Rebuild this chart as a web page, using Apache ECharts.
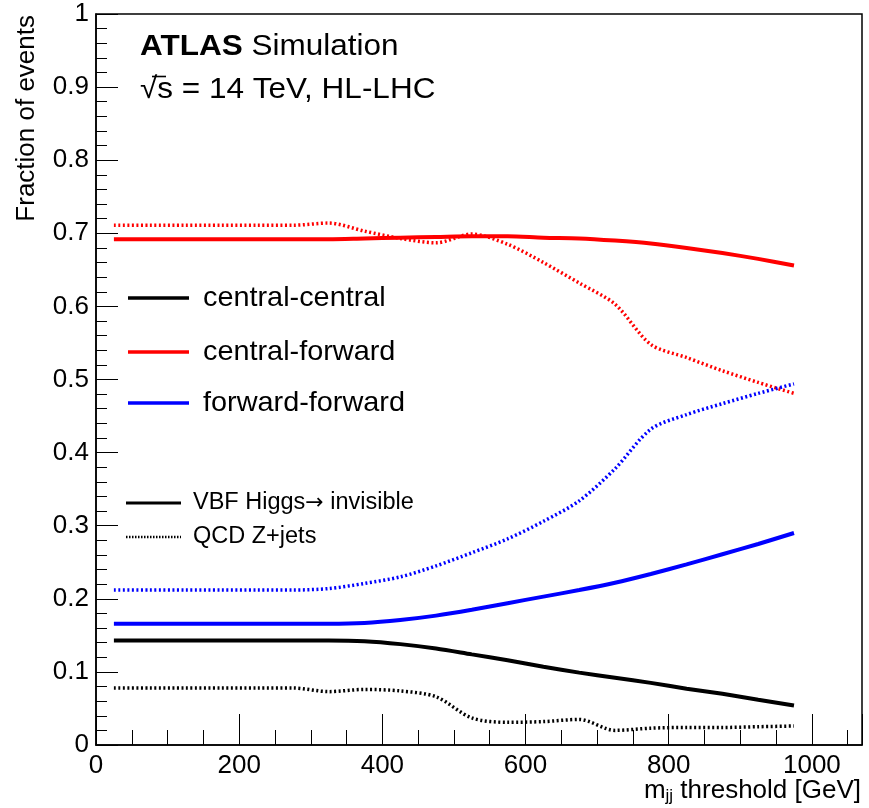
<!DOCTYPE html>
<html><head><meta charset="utf-8">
<script src="https://cdn.jsdelivr.net/npm/echarts@6/dist/echarts.min.js"></script>
<style>html,body{margin:0;padding:0;background:#fff}#c{width:869px;height:808px}</style>
</head><body><div id="c"></div>
<script>
// m_jj threshold values [GeV]
const mjj = [25,75,125,175,225,275,325,375,425,475,525,575,625,675,725,775,825,875,925,975];
// VBF Higgs -> invisible (solid)
const ccVBF = [0.143,0.143,0.143,0.143,0.143,0.143,0.143,0.142,0.138,0.132,0.124,0.116,0.107,0.099,0.092,0.085,0.077,0.070,0.062,0.054];
const cfVBF = [0.692,0.692,0.692,0.692,0.692,0.692,0.692,0.693,0.694,0.695,0.696,0.696,0.694,0.693,0.690,0.686,0.680,0.673,0.665,0.656];
const ffVBF = [0.166,0.166,0.166,0.166,0.166,0.166,0.166,0.167,0.171,0.177,0.185,0.194,0.203,0.212,0.222,0.234,0.247,0.261,0.275,0.290];
// QCD Z+jets (dotted)
const ccQCD = [0.078,0.078,0.078,0.078,0.078,0.078,0.073,0.076,0.074,0.066,0.037,0.031,0.032,0.035,0.020,0.023,0.024,0.024,0.025,0.026];
const cfQCD = [0.711,0.711,0.711,0.711,0.711,0.711,0.714,0.703,0.693,0.687,0.699,0.685,0.660,0.632,0.603,0.548,0.530,0.512,0.496,0.481];
const ffQCD = [0.212,0.212,0.212,0.212,0.212,0.212,0.214,0.221,0.230,0.245,0.263,0.282,0.306,0.334,0.378,0.432,0.452,0.467,0.481,0.494];
// axis ticks
const xMajorStep = 200, xMinorStep = 50, xMax = 1070;
const yStep = 0.1;
const legendMain = ['central-central','central-forward','forward-forward'];
const legendMainColors = ['#000000','#ff0000','#0000ff'];
const legendSample = [['VBF Higgs','\u2192',' invisible'],['QCD Z+jets','','']];

const FONT = '"Liberation Sans", Arial, Helvetica, sans-serif';
const pairs = arr => mjj.map((x,i)=>[x,arr[i]]);
const solid = (name,data,color)=>({name,type:'line',data:pairs(data),showSymbol:false,smooth:0.3,
  lineStyle:{color,width:4},z:3});
const dotted = (name,data,color)=>({name,type:'line',data:pairs(data),showSymbol:false,smooth:0.3,
  lineStyle:{color,width:3.5,type:[2,2.5]},z:2});

const chart = echarts.init(document.getElementById('c'),null,{renderer:'canvas'});
const graphics = [];
// header texts
graphics.push({type:'text',x:140,y:47,scaleX:1.05,style:{x:0,y:0,verticalAlign:'middle',
  text:'{b|ATLAS}{r| Simulation}',
  rich:{b:{fontFamily:FONT,fontSize:30,fontWeight:'bold',fill:'#000'},r:{fontFamily:FONT,fontSize:30,fill:'#000'}}}});
graphics.push({type:'text',x:140,y:90,scaleX:1.05,style:{x:0,y:0,verticalAlign:'middle',text:'\u221As = 14 TeV, HL-LHC',
  font:'30px '+FONT,fill:'#000'}});
graphics.push({type:'line',shape:{x1:152,y1:76.5,x2:166,y2:76.5},style:{stroke:'#000',lineWidth:1.6}});
// main legend
const ly = [298,352,403];
legendMain.forEach((t,i)=>{
  graphics.push({type:'line',shape:{x1:128,y1:ly[i],x2:189,y2:ly[i]},style:{stroke:legendMainColors[i],lineWidth:3.5}});
  graphics.push({type:'text',x:203,y:ly[i],scaleX:1.03,style:{x:0,y:0,verticalAlign:'middle',text:t,font:'28px '+FONT,fill:'#000'}});
});
// sample legend
const sy = [503,537];
graphics.push({type:'line',shape:{x1:126,y1:sy[0],x2:181,y2:sy[0]},style:{stroke:'#000',lineWidth:3}});
graphics.push({type:'line',shape:{x1:126,y1:sy[1],x2:181,y2:sy[1]},style:{stroke:'#000',lineWidth:2.5,lineDash:[1.5,1.5]}});
legendSample.forEach((t,i)=>{
  graphics.push({type:'text',style:{x:193,y:sy[i],verticalAlign:'middle',
    text:'{a|'+t[0]+'}'+(t[1]?'{ar|'+t[1]+'}':'')+(t[2]?'{a|'+t[2]+'}':''),
    rich:{a:{fontFamily:FONT,fontSize:23.5,fill:'#000'},
          ar:{fontFamily:'"DejaVu Sans", sans-serif',fontSize:22,fill:'#000'}}}});
});
// axis titles
graphics.push({type:'text',x:27,y:15,rotation:Math.PI/2,style:{x:0,y:0,align:'right',verticalAlign:'middle',
  text:'Fraction of events',font:'26px '+FONT,fill:'#000'}});
graphics.push({type:'text',style:{x:861,y:791,align:'right',verticalAlign:'middle',
  text:'{a|m}{s|jj}{a| threshold [GeV]}',
  rich:{a:{fontFamily:FONT,fontSize:26,fill:'#000',lineHeight:28,verticalAlign:'middle'},
        s:{fontFamily:FONT,fontSize:17,fill:'#000',lineHeight:28,verticalAlign:'bottom'}}}});

chart.setOption({
  animation:false,
  backgroundColor:'#fff',
  grid:{left:96,right:7,top:14,bottom:63,show:true,borderColor:'#000',borderWidth:1.5,backgroundColor:'transparent'},
  xAxis:[{type:'value',min:0,max:xMax,interval:xMajorStep,position:'bottom',
    axisLine:{show:true,lineStyle:{color:'#000',width:1.5}},
    axisTick:{show:true,inside:true,length:31,lineStyle:{color:'#000',width:1}},
    axisLabel:{color:'#000',fontFamily:FONT,fontSize:26,margin:8,
      formatter:v=>(v%xMajorStep===0?String(v):'')},
    splitLine:{show:false}},
   {type:'value',min:0,max:xMax,interval:xMinorStep,position:'bottom',
    axisLine:{show:false},
    axisTick:{show:true,inside:true,length:15,lineStyle:{color:'#000',width:1}},
    axisLabel:{show:false},splitLine:{show:false}}],
  yAxis:{type:'value',min:0,max:1,interval:yStep,
    axisLine:{show:true,lineStyle:{color:'#000',width:1.5}},
    axisTick:{show:true,inside:true,length:22,lineStyle:{color:'#000',width:1}},
    minorTick:{show:true,splitNumber:5,length:11,lineStyle:{color:'#000',width:1}},
    axisLabel:{color:'#000',fontFamily:FONT,fontSize:26,margin:7,
      formatter:v=>(v===0?'0':(Math.abs(v-1)<1e-9?'1':v.toFixed(1)))},
    splitLine:{show:false},minorSplitLine:{show:false}},
  series:[
    dotted('cc QCD',ccQCD,'#000000'),
    dotted('cf QCD',cfQCD,'#ff0000'),
    dotted('ff QCD',ffQCD,'#0000ff'),
    solid('cc VBF',ccVBF,'#000000'),
    solid('cf VBF',cfVBF,'#ff0000'),
    solid('ff VBF',ffVBF,'#0000ff')
  ],
  graphic:graphics
});
</script></body></html>
